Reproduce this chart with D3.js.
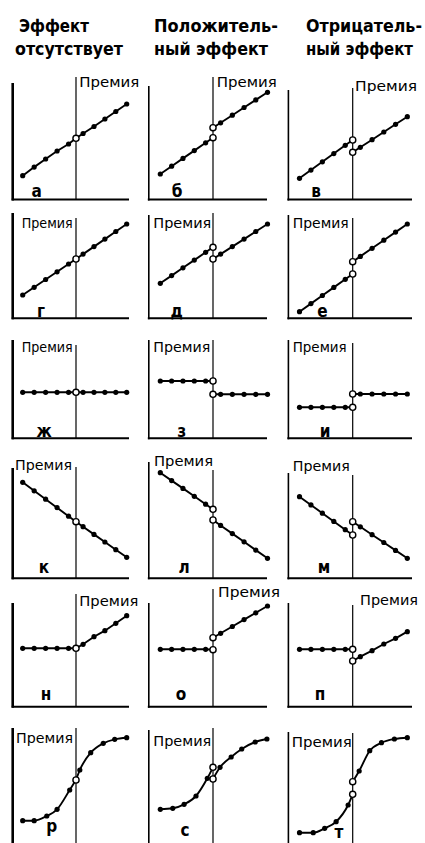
<!DOCTYPE html>
<html><head><meta charset="utf-8">
<script src="https://cdn.jsdelivr.net/npm/d3@7"></script>
<style>html,body{margin:0;padding:0;background:#fff;} svg{display:block;}</style>
</head><body>
<svg id="c" width="425" height="843"></svg>
<script>
// ---------- DATA ----------
const headers = [["Эффект","отсутствует"],["Положитель-","ный эффект"],["Отрицатель-","ный эффект"]];
const panelLetters = ["а","б","в","г","д","е","ж","з","и","к","л","м","н","о","п","р","с","т"];
const premiumLabel = "Премия";
const cutoff = 4.65;
const xLeftLinear = [0,1,2,3,4];
const xRightLinear = [5.3,6.3,7.3,8.3,9.3];
// curved panels (р, с, т) have their own x positions
const xLeftCurve = [[0,1,2.1,3,4.1],[0,1.1,2.1,3.15,4.15],[0,1.2,2.2,3.2,4.25]];
const xRightCurve = [[5.0,6.0,7.15,8.2,9.3],[5.25,6.2,7.1,8.25,9.25],[5.2,6.1,7.1,8.2,9.3]];
// values left of the threshold (5 points), end value at threshold (left), start value at threshold (right), values right
const leftValues = [
  [2.38,3.24,4.05,4.85,5.55],[2.55,3.33,4.11,4.89,5.67],[2.12,2.94,3.77,4.59,5.42],
  [2.33,3.10,3.88,4.65,5.43],[3.5,4.27,5.05,5.82,6.6],[0.66,1.47,2.28,3.09,3.9],
  [4.6,4.6,4.6,4.6,4.6],[5.73,5.73,5.73,5.73,5.73],[3.1,3.1,3.1,3.1,3.1],
  [9.6,8.75,7.91,7.06,6.21],[10.56,9.77,8.99,8.2,7.41],[8.16,7.34,6.51,5.69,4.86],
  [5.84,5.84,5.84,5.84,5.84],[5.74,5.74,5.74,5.74,5.74],[5.74,5.74,5.74,5.74,5.74],
  [2.53,2.53,3.0,3.67,5.6],[3.67,3.77,4.17,5.0,6.77],[1.33,1.33,1.77,2.43,4.1]
];
const leftEnd =   [6.12,6.18,5.95, 5.93,7.1,4.43, 4.6,5.73,3.1, 5.66,6.9,4.33, 5.84,5.7,5.74, 6.6,7.87,5.17];
const rightStart = [6.12,7.18,4.72, 5.93,5.93,5.66, 4.6,4.4,4.43, 5.66,5.83,5.66, 5.84,6.9,4.57, 6.6,6.7,6.43];
const rightValues = [
  [6.6,7.3,8.05,8.8,9.55],[7.67,8.43,9.2,9.96,10.72],[5.22,5.98,6.75,7.52,8.28],
  [6.42,7.17,7.92,8.68,9.43],[6.42,7.17,7.92,8.68,9.43],[6.19,7.0,7.81,8.62,9.43],
  [4.6,4.6,4.6,4.6,4.6],[4.4,4.4,4.4,4.4,4.4],[4.43,4.43,4.43,4.43,4.43],
  [5.16,4.39,3.63,2.86,2.1],[5.29,4.47,3.65,2.82,2.0],[5.15,4.36,3.58,2.79,2.0],
  [6.24,7.0,7.6,8.34,9.1],[7.34,8.02,8.71,9.39,10.07],[5.0,5.6,6.27,6.84,7.5],
  [7.6,9.33,10.27,10.67,10.83],[7.87,8.9,9.7,10.4,10.7],[7.5,9.53,10.33,10.7,10.83]
];

// ---------- LAYOUT ----------
const colAxisX = [12.7,148.8,288.4];
const colFirstX = [22.7,160.3,299.5];
const colCutX = [76,213,352.7];
const colLastX = [126.7,267.5,407.3];
const colAxisEnd = [129,267,412];
const rowBottom = [199.5,318.3,438.3,578.3,706.7,846];
const axisTop = [[83,86,90],[213,215,215],[340,340,340],[468,462,473],[603,603,603],[728,730,732]];
const cutTop = [[77,77,88],[218,213,218],[345,340,343],[467,470,475],[594,589,605],[728,728,733]];
const premPos = [ // [x, baseline, textLength]
  [[79.3,87,60],[216.7,87,60],[355,91,62]],
  [[21.7,227.5,51],[153.3,227.5,58],[292.7,227.5,56]],
  [[21.7,351.5,51],[153.3,351.5,57],[292.7,351.5,54]],
  [[15,469.5,57],[154,465.5,59],[292.7,471,57]],
  [[79.3,605.5,59],[218,596.5,62],[360,604.5,58]],
  [[16,742.5,57],[153.3,745.5,58],[291.7,747,60]]
];
const letterX = [36.7,177,316, 41,176.7,322.5, 44,181.7,325, 44,184,324, 46,181,320, 51.7,185,339];
const letterY = [197,197,197, 317,317,317, 436.5,436.5,436.5, 573,573,573, 700,700,700, 832,836,838];
const headPos = [[[19,32,70],[15,55,108]],[[154,32,124],[154,55,114]],[[306,32,116],[306,55,107]]];

const FONT = "'DejaVu Sans Condensed','DejaVu Sans',sans-serif";
const svg = d3.select("#c");

// headers
headers.forEach((lines,c)=>{
  lines.forEach((t,i)=>{
    const p = headPos[c][i];
    svg.append("text").attr("x",p[0]).attr("y",p[1]).text(t)
      .attr("font-family",FONT).attr("font-weight","bold").attr("font-size",18)
      .attr("font-stretch","condensed")
      .attr("textLength",p[2]).attr("lengthAdjust","spacingAndGlyphs").attr("fill","#000");
  });
});

for(let r=0;r<6;r++){
  for(let c=0;c<3;c++){
    const k = r*3+c;
    const g = svg.append("g");
    const x = d3.scaleLinear().domain([0,cutoff,9.3]).range([colFirstX[c],colCutX[c],colLastX[c]]);
    const y = d3.scaleLinear().domain([0,10]).range([rowBottom[r], rowBottom[r]-100]);
    const curved = r===5;
    const xl = curved ? xLeftCurve[c] : xLeftLinear;
    const xr = curved ? xRightCurve[c] : xRightLinear;
    // axes
    g.append("line").attr("x1",colAxisX[c]).attr("x2",colAxisX[c]).attr("y1",axisTop[r][c]).attr("y2",rowBottom[r]+1)
      .attr("stroke","#000").attr("stroke-width", c===0?2.6:1.6);
    g.append("line").attr("x1",colAxisX[c]-1).attr("x2",colAxisEnd[c]).attr("y1",rowBottom[r]).attr("y2",rowBottom[r])
      .attr("stroke","#000").attr("stroke-width",2);
    // threshold line
    g.append("line").attr("x1",x(cutoff)).attr("x2",x(cutoff)).attr("y1",cutTop[r][c]).attr("y2",rowBottom[r])
      .attr("stroke","#000").attr("stroke-width",1.2);
    // data
    const L = xl.map((v,i)=>[v,leftValues[k][i]]).concat([[cutoff,leftEnd[k]]]);
    const R = [[cutoff,rightStart[k]]].concat(xr.map((v,i)=>[v,rightValues[k][i]]));
    const line = d3.line().x(d=>x(d[0])).y(d=>y(d[1])).curve(curved?d3.curveMonotoneX:d3.curveLinear);
    [L,R].forEach(seg=>{
      g.append("path").attr("d",line(seg)).attr("fill","none").attr("stroke","#000").attr("stroke-width",1.9);
    });
    const filled = L.slice(0,5).concat(R.slice(1));
    g.selectAll("circle.f").data(filled).enter().append("circle").attr("class","f")
      .attr("cx",d=>x(d[0])).attr("cy",d=>y(d[1])).attr("r",2.6).attr("fill","#000");
    const opens = leftEnd[k]===rightStart[k] ? [[cutoff,leftEnd[k]]] : [[cutoff,leftEnd[k]],[cutoff,rightStart[k]]];
    g.selectAll("circle.o").data(opens).enter().append("circle").attr("class","o")
      .attr("cx",d=>x(d[0])).attr("cy",d=>y(d[1])).attr("r",3.1)
      .attr("fill","#fff").attr("stroke","#000").attr("stroke-width",1.4);
    // premium label
    const pp = premPos[r][c];
    g.append("text").attr("x",pp[0]).attr("y",pp[1]).text(premiumLabel)
      .attr("font-family",FONT).attr("font-size",13.5)
      .attr("textLength",pp[2]).attr("lengthAdjust","spacingAndGlyphs").attr("fill","#000");
    // panel letter
    g.append("text").attr("x",letterX[k]).attr("y",letterY[k]).attr("text-anchor","middle").text(panelLetters[k])
      .attr("font-family",FONT).attr("font-weight","bold").attr("font-size",17).attr("fill","#000");
  }
}
</script>
</body></html>
